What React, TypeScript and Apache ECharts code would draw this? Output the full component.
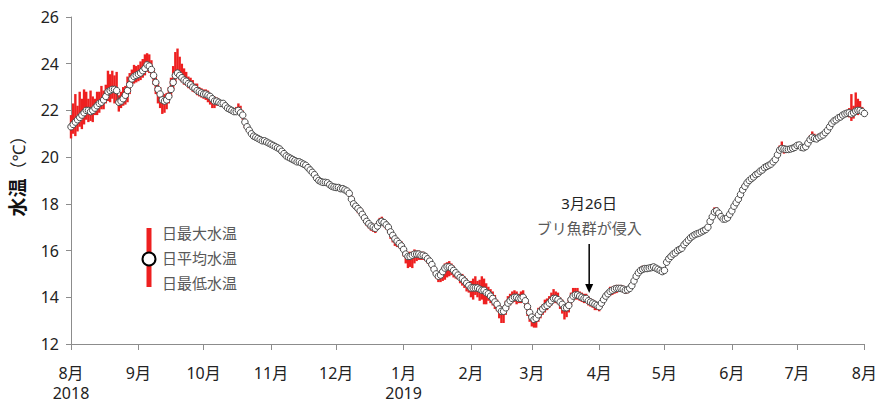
import { useEffect, useRef } from "react";
import * as echarts from "echarts";

// Daily mean water temperature (°C), Aug 1 2018 .. Aug 1 2019, by month
const meanAug = [21.3,21.4,21.5,21.6,21.7,21.8,21.9,22.0,22.0,21.95,22.0,22.1,22.2,22.3,22.35,22.45,22.6,22.8,22.85,22.9,22.9,22.85,22.35,22.4,22.5,22.65,22.85,23.1,23.35,23.45,23.5];
const meanSep = [23.55,23.6,23.7,23.8,23.95,23.9,23.75,23.5,23.2,22.9,22.7,22.45,22.4,22.45,22.6,22.9,23.2,23.5,23.6,23.5,23.4,23.3,23.25,23.15,23.1,23.0,22.95,22.85,22.8,22.75];
const meanOct = [22.7,22.7,22.65,22.6,22.5,22.4,22.4,22.35,22.3,22.3,22.2,22.1,22.05,22.0,21.95,21.95,22.0,21.9,21.8,21.5,21.3,21.15,21.0,20.9,20.85,20.8,20.75,20.7,20.7,20.65,20.6];
const meanNov = [20.55,20.5,20.45,20.4,20.35,20.25,20.15,20.05,20.0,19.95,19.9,19.85,19.8,19.8,19.75,19.7,19.65,19.55,19.45,19.35,19.25,19.1,19.0,18.95,18.92,18.92,18.9,18.82,18.75,18.72];
const meanDec = [18.7,18.7,18.65,18.65,18.6,18.55,18.45,18.2,18.0,17.9,17.8,17.7,17.55,17.4,17.25,17.15,17.05,17.0,16.95,17.05,17.2,17.25,17.2,17.1,17.0,16.8,16.65,16.5,16.4,16.3,16.2];
const meanJan = [16.05,15.85,15.75,15.75,15.8,15.85,15.85,15.85,15.8,15.8,15.75,15.65,15.55,15.4,15.2,15.0,14.9,14.95,15.1,15.25,15.3,15.3,15.25,15.15,15.05,14.95,14.85,14.8,14.7,14.6,14.5];
const meanFeb = [14.4,14.4,14.4,14.4,14.35,14.3,14.3,14.2,14.15,14.05,13.95,13.8,13.7,13.5,13.4,13.4,13.55,13.75,13.85,13.95,14.0,14.0,13.95,13.95,14.0,13.85,13.6,13.35];
const meanMar = [13.15,13.05,13.1,13.25,13.4,13.5,13.6,13.65,13.75,13.85,13.95,13.95,13.9,13.8,13.7,13.55,13.55,13.65,13.9,14.05,14.1,14.1,14.05,14.0,13.95,13.95,13.85,13.8,13.75,13.7,13.65];
const meanApr = [13.6,13.75,13.9,14.05,14.15,14.25,14.3,14.35,14.38,14.38,14.38,14.35,14.3,14.32,14.38,14.5,14.7,14.9,15.05,15.15,15.2,15.23,15.23,15.25,15.27,15.3,15.25,15.2,15.15,15.1];
const meanMay = [15.15,15.5,15.65,15.75,15.85,15.9,16.0,16.05,16.1,16.25,16.35,16.45,16.55,16.62,16.68,16.72,16.75,16.8,16.85,16.9,17.0,17.25,17.45,17.65,17.7,17.6,17.45,17.35,17.35,17.4,17.55];
const meanJun = [17.7,17.9,18.05,18.2,18.4,18.6,18.75,18.9,19.0,19.08,19.15,19.25,19.3,19.4,19.45,19.55,19.6,19.65,19.7,19.8,19.9,20.1,20.3,20.37,20.35,20.33,20.33,20.35,20.38,20.42];
const meanJul = [20.5,20.52,20.42,20.4,20.45,20.6,20.75,20.85,20.8,20.78,20.85,20.9,20.95,21.05,21.15,21.3,21.45,21.55,21.6,21.68,21.72,21.8,21.85,21.88,21.9,21.85,21.9,21.97,22.0,22.0,21.95,21.87];

// Daily max above mean (°C)
const upAug = [0.5,0.9,1.2,0.6,1.1,0.7,1.0,0.8,0.5,0.9,0.6,0.4,0.6,0.5,0.7,0.4,0.5,0.9,0.7,0.8,0.6,0.8,0.3,0.4,0.5,0.4,0.6,0.5,0.4,0.5,0.4];
const upSep = [0.4,0.5,0.5,0.6,0.5,0.5,0.4,0.3,0.3,0.3,0.3,0.2,0.3,0.3,0.4,0.5,0.7,1.0,1.05,0.8,0.6,0.5,0.4,0.3,0.3,0.3,0.2,0.3,0.2,0.2];
const upOct = [0.2,0.2,0.2,0.15,0.15,0.2,0.15,0.15,0.1,0.1,0.1,0.1,0.1,0.1,0.15,0.2,0.3,0.3,0.2,0.15,0.1,0.1,0.1,0.1,0.1,0.1,0.08,0.08,0.08,0.08,0.08];
const upNov = [0.08,0.1,0.08,0.08,0.1,0.08,0.08,0.1,0.08,0.08,0.1,0.1,0.08,0.08,0.1,0.08,0.1,0.08,0.1,0.08,0.1,0.12,0.1,0.08,0.08,0.1,0.08,0.1,0.08,0.1];
const upDec = [0.08,0.08,0.1,0.08,0.1,0.1,0.1,0.15,0.15,0.15,0.15,0.15,0.2,0.15,0.15,0.15,0.1,0.15,0.15,0.2,0.2,0.2,0.15,0.15,0.15,0.15,0.15,0.15,0.15,0.15,0.2];
const upJan = [0.2,0.2,0.2,0.2,0.15,0.2,0.15,0.15,0.15,0.15,0.15,0.15,0.15,0.15,0.15,0.15,0.15,0.2,0.2,0.2,0.2,0.25,0.2,0.2,0.15,0.15,0.15,0.2,0.2,0.2,0.2];
const upFeb = [0.3,0.4,0.5,0.3,0.4,0.6,0.5,0.4,0.3,0.3,0.3,0.3,0.2,0.2,0.2,0.2,0.3,0.3,0.3,0.3,0.3,0.25,0.2,0.3,0.3,0.2,0.2,0.2];
const upMar = [0.2,0.2,0.2,0.3,0.2,0.2,0.3,0.3,0.3,0.35,0.4,0.3,0.3,0.2,0.2,0.2,0.2,0.3,0.3,0.35,0.3,0.3,0.2,0.2,0.2,0.2,0.2,0.15,0.15,0.15,0.15];
const upApr = [0.15,0.15,0.15,0.15,0.15,0.2,0.15,0.15,0.15,0.15,0.15,0.15,0.1,0.1,0.1,0.1,0.1,0.1,0.1,0.15,0.15,0.1,0.1,0.1,0.1,0.1,0.1,0.1,0.1,0.1];
const upMay = [0.1,0.1,0.1,0.1,0.1,0.1,0.1,0.1,0.1,0.1,0.1,0.1,0.1,0.1,0.1,0.1,0.1,0.1,0.1,0.1,0.1,0.1,0.15,0.2,0.15,0.1,0.1,0.1,0.1,0.1,0.1];
const upJun = [0.1,0.1,0.1,0.1,0.15,0.2,0.15,0.1,0.1,0.1,0.1,0.1,0.1,0.1,0.1,0.1,0.1,0.1,0.1,0.1,0.1,0.15,0.2,0.3,0.15,0.1,0.1,0.1,0.1,0.1];
const upJul = [0.1,0.1,0.1,0.1,0.1,0.15,0.2,0.25,0.2,0.15,0.15,0.1,0.1,0.1,0.1,0.1,0.1,0.1,0.1,0.1,0.1,0.1,0.1,0.15,0.2,0.85,0.3,0.8,0.5,0.4,0.2,0.1];

// Daily min below mean (°C)
const downAug = [0.5,0.4,0.6,0.5,0.4,0.6,0.5,0.4,0.5,0.4,0.5,0.3,0.4,0.4,0.3,0.4,0.3,0.4,0.5,0.4,0.6,0.5,0.4,0.3,0.3,0.4,0.5,0.4,0.3,0.3,0.3];
const downSep = [0.3,0.3,0.3,0.3,0.3,0.3,0.3,0.4,0.5,0.6,0.6,0.6,0.5,0.4,0.3,0.3,0.3,0.3,0.2,0.2,0.2,0.2,0.2,0.2,0.2,0.2,0.2,0.2,0.2,0.2];
const downOct = [0.2,0.25,0.3,0.35,0.4,0.3,0.2,0.15,0.1,0.1,0.1,0.1,0.1,0.1,0.1,0.1,0.1,0.1,0.2,0.25,0.2,0.15,0.1,0.1,0.1,0.08,0.08,0.08,0.08,0.08,0.08];
const downNov = [0.08,0.08,0.1,0.08,0.08,0.1,0.08,0.08,0.1,0.08,0.08,0.1,0.08,0.1,0.08,0.08,0.1,0.1,0.08,0.1,0.12,0.1,0.08,0.08,0.1,0.08,0.1,0.1,0.08,0.08];
const downDec = [0.08,0.08,0.08,0.1,0.1,0.1,0.15,0.15,0.15,0.15,0.2,0.2,0.2,0.2,0.2,0.2,0.2,0.2,0.2,0.15,0.15,0.15,0.2,0.2,0.25,0.3,0.3,0.3,0.25,0.2,0.2];
const downJan = [0.3,0.4,0.5,0.45,0.55,0.4,0.3,0.25,0.2,0.2,0.2,0.2,0.2,0.2,0.2,0.2,0.25,0.3,0.4,0.5,0.45,0.4,0.3,0.3,0.25,0.2,0.25,0.3,0.3,0.35,0.3];
const downFeb = [0.4,0.5,0.3,0.4,0.5,0.4,0.6,0.5,0.3,0.3,0.3,0.3,0.3,0.4,0.5,0.5,0.3,0.3,0.2,0.2,0.2,0.3,0.2,0.2,0.2,0.3,0.4,0.4];
const downMar = [0.4,0.35,0.4,0.3,0.3,0.25,0.25,0.2,0.2,0.2,0.2,0.2,0.2,0.3,0.4,0.5,0.4,0.3,0.25,0.2,0.2,0.2,0.2,0.2,0.2,0.2,0.2,0.2,0.2,0.25,0.2];
const downApr = [0.2,0.2,0.2,0.15,0.15,0.2,0.2,0.2,0.2,0.15,0.15,0.15,0.15,0.15,0.1,0.1,0.1,0.1,0.1,0.1,0.1,0.1,0.1,0.1,0.1,0.1,0.1,0.1,0.1,0.1];
const downMay = [0.1,0.1,0.1,0.1,0.1,0.1,0.1,0.1,0.1,0.1,0.1,0.1,0.1,0.1,0.1,0.1,0.1,0.1,0.1,0.1,0.1,0.1,0.1,0.1,0.15,0.15,0.15,0.1,0.1,0.1,0.1];
const downJun = [0.1,0.1,0.1,0.1,0.1,0.1,0.1,0.1,0.1,0.1,0.1,0.1,0.1,0.1,0.1,0.1,0.1,0.1,0.1,0.1,0.1,0.1,0.1,0.15,0.2,0.15,0.1,0.1,0.1,0.1];
const downJul = [0.1,0.1,0.1,0.1,0.1,0.1,0.1,0.1,0.1,0.1,0.1,0.1,0.1,0.1,0.1,0.1,0.1,0.1,0.1,0.1,0.1,0.1,0.1,0.15,0.2,0.3,0.25,0.15,0.2,0.15,0.1,0.1];

const meanTemp = [...meanAug, ...meanSep, ...meanOct, ...meanNov, ...meanDec, ...meanJan, ...meanFeb, ...meanMar, ...meanApr, ...meanMay, ...meanJun, ...meanJul];
const maxAbove = [...upAug, ...upSep, ...upOct, ...upNov, ...upDec, ...upJan, ...upFeb, ...upMar, ...upApr, ...upMay, ...upJun, ...upJul];
const minBelow = [...downAug, ...downSep, ...downOct, ...downNov, ...downDec, ...downJan, ...downFeb, ...downMar, ...downApr, ...downMay, ...downJun, ...downJul];

const yMin = 12;
const yMax = 26;
const yInterval = 2;
const entryDate = "2019-03-26";
const legendLabels = ["日最大水温", "日平均水温", "日最低水温"];
const annotationDate = "3月26日";
const annotationText = "ブリ魚群が侵入";

const FONT = "'Noto Sans', 'Noto Sans CJK JP', sans-serif";
const RED = "#ee2020";

function buildDates(): string[] {
  const out: string[] = [];
  const start = Date.UTC(2018, 7, 1);
  for (let i = 0; i < 366; i++) {
    const d = new Date(start + i * 86400000);
    const y = d.getUTCFullYear();
    const m = String(d.getUTCMonth() + 1).padStart(2, "0");
    const dd = String(d.getUTCDate()).padStart(2, "0");
    out.push(`${y}-${m}-${dd}`);
  }
  return out;
}

export default function App() {
  const ref = useRef<HTMLDivElement>(null);
  useEffect(() => {
    if (!ref.current) return;
    const chart = echarts.init(ref.current, null, { renderer: "svg" });
    const dates = buildDates();
    const n = Math.min(dates.length, meanTemp.length);
    const cats = dates.slice(0, n);
    const rangeData = cats.map((_, i) => [
      i,
      +(meanTemp[i] + maxAbove[i]).toFixed(2),
      +(meanTemp[i] - minBelow[i]).toFixed(2),
    ]);
    const isMonthStart = (_i: number, v: string) => v.endsWith("-01");

    chart.setOption({
      animation: false,
      backgroundColor: "#ffffff",
      textStyle: { fontFamily: FONT },
      grid: { left: 71, right: 14, top: 17, bottom: 57, containLabel: false },
      xAxis: {
        type: "category",
        data: cats,
        boundaryGap: false,
        axisLine: { lineStyle: { color: "#8c8c8c", width: 1 } },
        axisTick: { show: true, interval: isMonthStart, length: 6, lineStyle: { color: "#8c8c8c" } },
        axisLabel: {
          interval: isMonthStart,
          margin: 19,
          fontSize: 16,
          lineHeight: 20,
          color: "#222",
          fontFamily: FONT,
          formatter: (v: string) => {
            const [y, m] = v.split("-");
            const mm = parseInt(m, 10);
            if (mm === 8 && y === "2018") return "8月\n2018";
            if (mm === 1) return "1月\n" + y;
            return mm + "月";
          },
        },
        splitLine: { show: false },
      },
      yAxis: {
        type: "value",
        min: yMin,
        max: yMax,
        interval: yInterval,
        axisLine: { show: true, lineStyle: { color: "#8c8c8c", width: 1 } },
        axisTick: { show: true, length: 5, lineStyle: { color: "#8c8c8c" } },
        axisLabel: { fontSize: 16, color: "#222", margin: 12, fontFamily: FONT },
        splitLine: { show: false },
      },
      series: [
        {
          type: "custom",
          name: "range",
          data: rangeData,
          encode: { x: 0, y: [1, 2] },
          z: 2,
          renderItem: (_params: any, api: any) => {
            const i = api.value(0);
            const p1 = api.coord([i, api.value(1)]);
            const p2 = api.coord([i, api.value(2)]);
            return {
              type: "line",
              shape: { x1: p1[0], y1: p1[1], x2: p2[0], y2: p2[1] },
              style: { stroke: RED, lineWidth: 2.4 },
            };
          },
        },
        {
          type: "line",
          name: "mean",
          data: meanTemp.slice(0, n),
          z: 3,
          showAllSymbol: true,
          symbol: "circle",
          symbolSize: 6.5,
          itemStyle: { color: "#ffffff", borderColor: "#4a4a4a", borderWidth: 1 },
          lineStyle: { color: "#555", width: 1 },
        },
      ],
    });

    const idx = cats.indexOf(entryDate);
    const ax = chart.convertToPixel({ xAxisIndex: 0 }, idx) as number;

    chart.setOption({
      graphic: [
        {
          type: "text",
          x: 18,
          y: 172,
          rotation: Math.PI / 2,
          style: {
            text: "{b|水温}{n|（℃）}",
            align: "center",
            verticalAlign: "middle",
            rich: {
              b: { fontSize: 19, fontWeight: "bold", fill: "#111", fontFamily: FONT },
              n: { fontSize: 17, fill: "#222", fontFamily: FONT },
            },
          },
        },
        { type: "rect", shape: { x: 146.5, y: 228, width: 5, height: 59 }, style: { fill: RED }, z: 10 },
        { type: "circle", shape: { cx: 149, cy: 259, r: 6.5 }, style: { fill: "#fff", stroke: "#000", lineWidth: 2 }, z: 11 },
        ...legendLabels.map((t, k) => ({
          type: "text",
          x: 162,
          y: 233 + k * 25,
          z: 11,
          style: { text: t, fontSize: 15, fill: "#595959", fontFamily: FONT, verticalAlign: "middle", align: "left" },
        })),
        {
          type: "text",
          x: ax + 3,
          y: 203,
          z: 11,
          style: { text: annotationDate, fontSize: 15, fill: "#222", fontFamily: FONT, align: "center", verticalAlign: "middle" },
        },
        {
          type: "text",
          x: ax + 3,
          y: 228,
          z: 11,
          style: { text: annotationText, fontSize: 15, fill: "#595959", fontFamily: FONT, align: "center", verticalAlign: "middle" },
        },
        {
          type: "line",
          z: 11,
          shape: { x1: ax + 3, y1: 244, x2: ax + 3, y2: 287 },
          style: { stroke: "#000", lineWidth: 1.5 },
        },
        {
          type: "polygon",
          z: 11,
          shape: { points: [[ax - 1, 284], [ax + 7, 284], [ax + 3, 293]] },
          style: { fill: "#000" },
        },
      ],
    });

    return () => chart.dispose();
  }, []);
  return <div ref={ref} style={{ position: "fixed", left: 0, top: 0, width: 880, height: 403 }} />;
}
